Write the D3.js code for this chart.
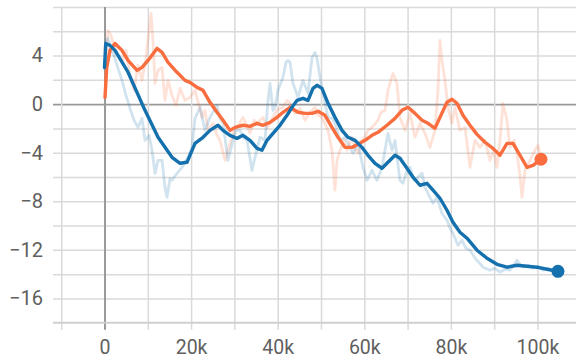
<!DOCTYPE html>
<html>
<head>
<meta charset="utf-8">
<script src="https://cdn.jsdelivr.net/npm/d3@7"></script>
<style>
  html, body { margin: 0; padding: 0; background: #ffffff; }
  svg { display: block; }
  .label text { font-family: Roboto, "Noto Sans", sans-serif; fill: #5f5f5f; }
</style>
</head>
<body>
<svg id="chart" width="576" height="360"></svg>
<script>
// Steps are in thousands.
const xTickValues = [0, 20, 40, 60, 80, 100];
const xTickLabels = ["0", "20k", "40k", "60k", "80k", "100k"];
const xGridValues = [-10, 0, 10, 20, 30, 40, 50, 60, 70, 80, 90, 100, 110];
const yTickValues = [4, 0, -4, -8, -12, -16];
const yTickLabels = ["4", "0", "−4", "−8", "−12", "−16"];
const yGridValues = [8, 6, 4, 2, 0, -2, -4, -6, -8, -10, -12, -14, -16];

// Run "blue": smoothed curve
const blueSmoothSteps = [0, 0.28, 1.27, 2.42, 5.43, 9.35, 12.36, 15.59, 17.44, 19.05,
  20.9, 22.75, 24.36, 26.21, 27.37, 28.98, 30.6, 31.99, 33.6, 35.22,
  36.37, 37.53, 38.92, 40.53, 42.15, 43.3, 44.46, 45.84, 47.0, 48.15,
  49.08, 50.23, 51.62, 53.23, 54.85, 56.24, 57.85, 59.47, 60.85, 62.47,
  64.09, 65.24, 67.09, 68.24, 69.86, 71.25, 72.86, 74.48, 75.87, 77.48,
  79.1, 80.48, 82.1, 83.72, 86.03, 88.34, 90.65, 92.96, 95.27, 97.58,
  99.88, 102.19, 104.73];
const blueSmoothValues = [3.03, 5.0, 4.84, 4.43, 2.63, -0.51, -2.73, -4.38, -4.87, -4.79,
  -3.23, -2.73, -2.16, -1.74, -2.16, -2.57, -2.82, -2.57, -2.98, -3.64,
  -3.80, -2.98, -2.40, -1.74, -0.92, -0.26, 0.31, 0.48, 0.31, 1.30,
  1.55, 1.30, 0.07, -1.09, -2.16, -2.73, -2.98, -3.56, -4.21, -4.87,
  -5.28, -4.87, -4.21, -4.46, -5.28, -6.02, -6.68, -6.52, -7.09, -7.75,
  -8.74, -9.73, -10.55, -11.04, -12.03, -12.69, -13.19, -13.43, -13.27, -13.35,
  -13.43, -13.6, -13.77];

// Run "blue": raw values
const blueRawSteps = [0.0, 0.35, 0.81, 1.5, 2.19, 3.12, 4.04, 4.97, 5.89, 6.81,
  7.74, 8.66, 9.35, 10.28, 10.97, 11.66, 12.36, 13.28, 13.97, 14.43,
  15.13, 15.59, 16.74, 17.9, 18.82, 19.28, 20.21, 20.9, 22.06, 23.21,
  24.36, 25.29, 25.98, 26.67, 27.37, 28.52, 29.68, 30.37, 31.29, 32.22,
  32.91, 34.06, 34.76, 35.91, 37.07, 37.76, 38.22, 38.91, 39.38, 40.07,
  41.22, 41.92, 42.38, 42.84, 43.53, 44.69, 45.84, 47.0, 47.92, 48.61,
  49.08, 49.77, 50.46, 51.62, 52.54, 53.23, 54.39, 55.54, 56.24, 57.39,
  58.55, 59.7, 60.62, 61.78, 62.93, 64.09, 64.78, 65.47, 66.4, 67.09,
  68.24, 68.94, 69.86, 70.55, 71.48, 72.17, 73.33, 74.02, 75.17, 75.87,
  76.79, 77.94, 79.1, 79.79, 80.48, 81.64, 82.56, 83.49, 84.41, 85.33,
  86.03, 87.41, 89.03, 90.18, 91.34, 92.49, 93.65, 94.34, 95.27, 95.96,
  96.65, 97.81, 98.96, 100.12, 101.27, 102.42, 103.58, 104.73];
const blueRawValues = [2.78, 5.24, 5.42, 4.59, 4.02, 2.95, 1.96, 0.72, -0.35, -1.33,
  -1.91, -1.17, -2.98, -2.57, -3.8, -5.7, -4.63, -4.63, -6.85, -7.67,
  -6.11, -6.27, -5.7, -5.2, -4.63, -4.38, -3.56, -1.17, -0.26, -2.16,
  -1.09, -0.51, -0.1, -1.17, -1.58, -4.63, -2.98, -2.16, -2.16, -2.81,
  -2.98, -5.45, -4.38, -2.73, -2.98, 0.31, 1.71, -0.51, -0.26, 1.14,
  2.21, 3.44, 3.6, 3.44, 1.71, 0.56, 1.96, 0.89, 3.85, 4.26,
  3.77, 2.21, 0.89, -1.09, -1.17, -1.58, -2.98, -2.73, -3.23, -4.05,
  -3.23, -5.2, -6.27, -5.45, -6.27, -5.2, -3.8, -2.4, -3.8, -2.98,
  -6.27, -6.52, -5.45, -5.2, -6.27, -6.11, -5.7, -6.85, -7.67, -8.16,
  -7.67, -8.99, -9.56, -10.22, -10.63, -11.62, -11.21, -11.87, -12.03, -12.53,
  -12.86, -13.43, -13.68, -13.52, -13.84, -13.6, -13.68, -13.35, -12.86, -13.19,
  -13.43, -13.27, -13.52, -13.35, -13.68, -13.52, -13.68, -13.77];

// Run "orange": smoothed curve
const orangeSmoothSteps = [0.12, 0.51, 1.27, 2.42, 4.04, 5.43, 7.51, 8.66, 10.05, 12.12,
  13.28, 14.67, 16.74, 18.59, 19.75, 21.36, 22.75, 24.36, 25.98, 27.37,
  28.98, 30.14, 31.99, 33.6, 35.22, 36.61, 38.22, 39.84, 41.22, 42.84,
  44.69, 46.3, 47.92, 49.31, 50.92, 52.54, 53.93, 55.54, 57.16, 58.54,
  60.16, 61.78, 63.16, 65.24, 67.09, 68.71, 70.09, 71.71, 73.33, 74.71,
  76.33, 77.48, 79.1, 80.25, 81.41, 82.79, 84.41, 86.03, 87.88, 89.72,
  91.34, 92.96, 94.34, 95.96, 97.58, 98.96, 100.81];
const orangeSmoothValues = [0.56, 3.03, 4.43, 5.0, 4.43, 3.6, 2.78, 3.03, 3.6, 4.59,
  4.26, 3.44, 2.62, 1.96, 1.79, 1.38, 1.14, 0.15, -0.67, -1.33,
  -2.16, -1.91, -1.74, -1.83, -1.58, -1.74, -1.5, -1.09, -0.67, -0.26,
  -0.67, -0.76, -0.76, -0.59, -0.92, -1.91, -2.73, -3.56, -3.56, -3.31,
  -2.98, -2.57, -2.32, -1.74, -1.17, -0.51, -0.26, -0.76, -1.33, -1.58,
  -1.99, -1.09, 0.15, 0.4, 0.07, -0.92, -1.74, -2.49, -3.14, -3.64,
  -4.21, -3.23, -3.23, -4.21, -5.2, -5.04, -4.54];

// Run "orange": raw values
const orangeRawSteps = [0.12, 0.35, 0.81, 1.5, 2.19, 3.12, 4.04, 4.97, 5.89, 6.81,
  7.74, 8.66, 9.58, 10.28, 10.74, 11.2, 11.66, 12.36, 13.28, 13.97,
  14.67, 15.59, 16.51, 17.44, 18.59, 19.75, 20.9, 21.82, 22.52, 23.21,
  23.9, 25.06, 25.98, 26.67, 27.83, 28.98, 29.91, 30.6, 31.99, 32.91,
  33.6, 34.53, 35.22, 36.61, 37.53, 38.22, 39.15, 39.84, 41.22, 42.15,
  42.84, 43.99, 45.15, 46.3, 47.46, 48.61, 49.31, 50.23, 51.62, 52.54,
  53.23, 53.7, 54.39, 55.31, 56.0, 57.16, 57.85, 58.55, 59.47, 60.16,
  60.85, 61.78, 63.16, 63.86, 64.78, 65.47, 66.63, 67.55, 68.24, 69.4,
  70.55, 71.71, 72.86, 74.02, 75.17, 76.33, 77.02, 77.48, 77.94, 78.64,
  79.33, 80.25, 80.95, 82.1, 83.26, 84.41, 85.57, 86.72, 87.88, 89.03,
  89.95, 90.65, 91.34, 92.03, 92.96, 93.65, 94.57, 95.27, 95.96, 96.42,
  97.11, 98.27, 99.42, 100.12, 100.81];
const orangeRawValues = [0.72, 3.6, 6.07, 5.66, 4.84, 4.02, 3.44, 4.43, 2.37, 1.14,
  3.19, 1.96, 3.77, 6.07, 7.47, 5.25, 1.71, 2.78, 3.03, 0.31,
  1.96, 0.72, -0.1, 1.3, 0.31, 0.56, 1.14, -0.1, -1.09, -0.51,
  -2.16, -1.58, -2.57, -2.98, -4.63, -3.23, -2.16, -1.91, -1.09, -1.74,
  -2.4, -1.33, -1.58, -1.09, -1.99, -1.58, -0.92, -0.51, -0.26, 0.31,
  0.07, -0.76, -0.35, -1.33, -0.67, -0.26, -0.92, -1.09, -2.16, -3.8,
  -7.09, -4.63, -3.8, -2.98, -3.8, -2.73, -3.64, -4.05, -2.98, -2.73,
  -2.16, -1.91, -1.33, -0.67, -0.51, 1.14, 2.53, 1.71, -1.09, -2.16,
  -0.76, -2.73, -1.58, -2.4, -3.56, -2.16, 1.14, 5.25, 3.6, 1.96,
  -0.26, -1.58, -0.26, -2.16, -1.91, -5.2, -2.98, -3.56, -2.98, -4.63,
  -3.8, -5.2, -2.98, 0.07, -1.33, -3.56, -2.98, -4.05, -5.86, -7.67,
  -5.45, -4.63, -3.8, -3.4, -4.46];

const runs = [
  { color: "#f96d3e", rawSteps: orangeRawSteps, rawValues: orangeRawValues,
    smoothSteps: orangeSmoothSteps, smoothValues: orangeSmoothValues },
  { color: "#1571ae", rawSteps: blueRawSteps, rawValues: blueRawValues,
    smoothSteps: blueSmoothSteps, smoothValues: blueSmoothValues }
];

const toPoints = (steps, values) =>
  d3.range(Math.min(steps.length, values.length)).map(i => [steps[i], values[i]]);

// Layout
const plotLeft = 53, plotRight = 576, plotTop = 7, plotBottom = 322.7;

const x = d3.scaleLinear().domain([-11.9, 108.9]).range([plotLeft, plotRight]);
const y = d3.scaleLinear().domain([-18, 8]).range([plotBottom, plotTop]);

const svg = d3.select("#chart");

svg.append("defs").append("clipPath").attr("id", "plot-clip")
  .append("rect").attr("x", plotLeft).attr("y", plotTop - 2)
  .attr("width", plotRight - plotLeft).attr("height", plotBottom - plotTop + 2);

// Horizontal grid lines
const yGrid = svg.append("g").attr("transform", `translate(${plotLeft},0)`)
  .call(d3.axisLeft(y).tickValues(yGridValues).tickSize(-(plotRight - plotLeft)).tickFormat(""));
yGrid.select(".domain").remove();
yGrid.selectAll(".tick line")
  .attr("stroke", d => d === 0 ? "#999999" : "#dadada")
  .attr("stroke-width", d => d === 0 ? 1.8 : 1.5);

// Vertical grid lines, extended below the axis as tick marks
const xGrid = svg.append("g").attr("transform", `translate(0,${plotBottom + 7})`)
  .call(d3.axisBottom(x).tickValues(xGridValues).tickSize(-(plotBottom + 7 - plotTop)).tickFormat(""));
xGrid.select(".domain").remove();
xGrid.selectAll(".tick line")
  .attr("stroke", d => d === 0 ? "#999999" : "#dadada")
  .attr("stroke-width", d => d === 0 ? 2 : 1.5);

// Bottom axis line
svg.append("line")
  .attr("x1", plotLeft).attr("x2", plotRight).attr("y1", plotBottom).attr("y2", plotBottom)
  .attr("stroke", "#cfcfcf").attr("stroke-width", 2);

// Tick labels
const xLabels = svg.append("g").attr("class", "label")
  .attr("transform", `translate(0,${plotBottom})`)
  .call(d3.axisBottom(x).tickValues(xTickValues).tickSize(0).tickPadding(17.5)
    .tickFormat((d, i) => xTickLabels[i]));
xLabels.select(".domain").remove();
xLabels.selectAll("text").attr("font-size", 19.5);

const yLabels = svg.append("g").attr("class", "label")
  .attr("transform", `translate(${plotLeft},0)`)
  .call(d3.axisLeft(y).tickValues(yTickValues).tickSize(0).tickPadding(10)
    .tickFormat((d, i) => yTickLabels[i]));
yLabels.select(".domain").remove();
yLabels.selectAll("text").attr("font-size", 20);

// Series
const line = d3.line().x(d => x(d[0])).y(d => y(d[1]));
const plot = svg.append("g").attr("clip-path", "url(#plot-clip)");

runs.forEach(r => {
  plot.append("path")
    .datum(toPoints(r.rawSteps, r.rawValues))
    .attr("d", line)
    .attr("fill", "none")
    .attr("stroke", r.color)
    .attr("stroke-opacity", 0.2)
    .attr("stroke-width", 2.8)
    .attr("stroke-linejoin", "round");
});

runs.forEach(r => {
  const pts = toPoints(r.smoothSteps, r.smoothValues);
  plot.append("path")
    .datum(pts)
    .attr("d", line)
    .attr("fill", "none")
    .attr("stroke", r.color)
    .attr("stroke-width", 3.4)
    .attr("stroke-linejoin", "round")
    .attr("stroke-linecap", "round");
  const last = pts[pts.length - 1];
  svg.append("circle")
    .attr("cx", x(last[0])).attr("cy", y(last[1]))
    .attr("r", 6.5)
    .attr("fill", r.color);
});
</script>
</body>
</html>
